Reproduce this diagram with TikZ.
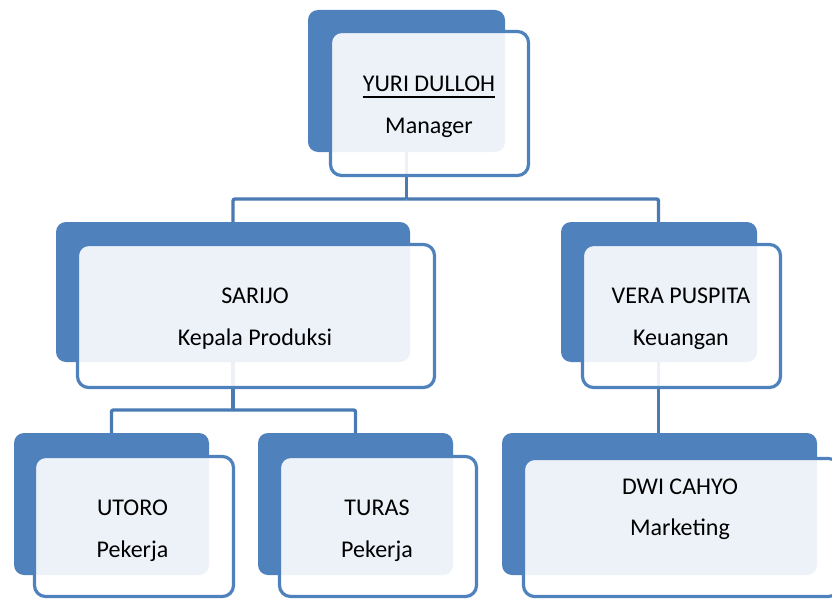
\documentclass[tikz,border=0pt]{standalone}
\usepackage{fontspec}
\setmainfont{Carlito}
\definecolor{obblue}{RGB}{79,129,189}
\definecolor{lineblue}{RGB}{74,122,180}
\begin{document}
\begin{tikzpicture}[x=1pt,y=-1pt,
  backbox/.style={rectangle, rounded corners=10pt, fill=obblue, draw=none, inner sep=0pt},
  frontbox/.style={rectangle, rounded corners=11pt, draw=obblue, line width=3.2pt, fill=white, fill opacity=0.9, inner sep=0pt},
  conn/.style={draw=lineblue, line width=3.4pt, rounded corners=2pt},
  lbl/.style={anchor=base, inner sep=0pt, text=black, font=\fontsize{24}{29}\selectfont}]
\useasboundingbox (0,0) rectangle (832,599);
\clip (0,0) rectangle (832,599);
% junction coordinates
\coordinate (j1) at (406.5,199);
\coordinate (j2) at (233,410);
% back boxes (positions)
\path (406.5,81) coordinate (pmgrB);
% connectors (beneath boxes)
\draw[conn] (406.5,81) -- (j1);
\draw[conn] (233,292) |- (j1);
\draw[conn] (658.5,292) |- (j1);
\draw[conn] (233,292) -- (j2);
\draw[conn] (111.5,504) |- (j2);
\draw[conn] (355.5,504) |- (j2);
\draw[conn] (658.5,292) -- (658.5,504);
% back boxes
\node[backbox, minimum width=197pt, minimum height=142pt] (mgrB) at (406.5,81) {};
\node[backbox, minimum width=354pt, minimum height=140pt] (sarB) at (233,292) {};
\node[backbox, minimum width=196pt, minimum height=140pt] (verB) at (659,292) {};
\node[backbox, minimum width=195pt, minimum height=142pt] (utoB) at (111.5,504) {};
\node[backbox, minimum width=195pt, minimum height=142pt] (turB) at (355.5,504) {};
\node[backbox, minimum width=315pt, minimum height=142pt] (dwiB) at (659.5,504) {};
% front boxes
\node[frontbox, minimum width=198pt, minimum height=144pt] (mgrF) at (429.5,103.5) {};
\node[frontbox, minimum width=357pt, minimum height=143pt] (sarF) at (256,316) {};
\node[frontbox, minimum width=198pt, minimum height=143pt] (verF) at (681.5,316) {};
\node[frontbox, minimum width=199pt, minimum height=140pt] (utoF) at (134,526.5) {};
\node[frontbox, minimum width=197pt, minimum height=140pt] (turF) at (378,526.5) {};
\node[frontbox, minimum width=316pt, minimum height=138pt] (dwiF) at (681.5,527.5) {};
% texts
\node[lbl] (mgrN) at (429,92) {YURI DULLOH};
\draw[black, line width=1.5pt] ([yshift=-5pt]mgrN.base west) -- ([yshift=-5pt]mgrN.base east);
\node[lbl] (mgrR) at (429,133.5) {Manager};
\node[lbl] (sarN) at (255,303) {SARIJO};
\node[lbl] (sarR) at (255,345) {Kepala Produksi};
\node[lbl] (verN) at (681,303) {VERA PUSPITA};
\node[lbl] (verR) at (681,345) {Keuangan};
\node[lbl] (utoN) at (132.5,515) {UTORO};
\node[lbl] (utoR) at (132.5,557) {Pekerja};
\node[lbl] (turN) at (377,515) {TURAS};
\node[lbl] (turR) at (377,557) {Pekerja};
\node[lbl] (dwiN) at (680,494) {DWI CAHYO};
\node[lbl] (dwiR) at (680,535) {Marketing};
\end{tikzpicture}
\end{document}
